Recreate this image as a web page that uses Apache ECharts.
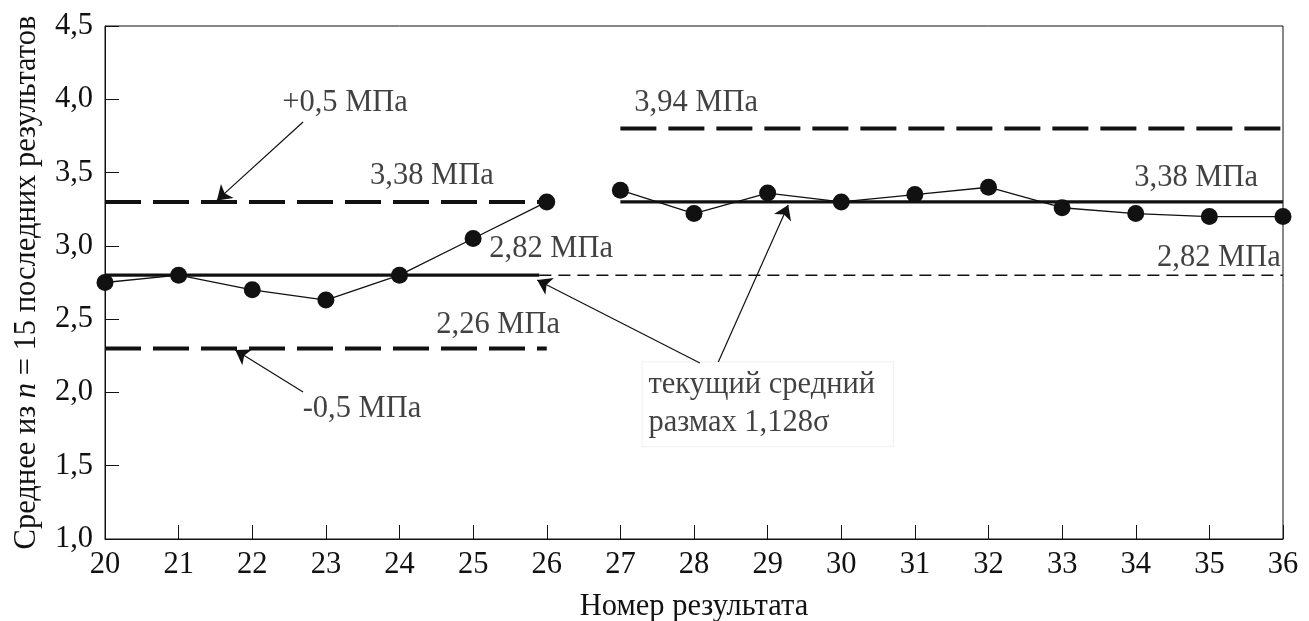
<!DOCTYPE html>
<html><head><meta charset="utf-8">
<script src="https://cdn.jsdelivr.net/npm/echarts@6/dist/echarts.min.js"></script>
<style>html,body{margin:0;padding:0;background:#fff}#c{width:1309px;height:621px}</style>
</head><body><div id="c"></div>
<script>
// ---- data ----
const xA = [20, 21, 22, 23, 24, 25, 26];
const yA = [2.75, 2.80, 2.70, 2.63, 2.80, 3.05, 3.30];
const xB = [27, 28, 29, 30, 31, 32, 33, 34, 35, 36];
const yB = [3.38, 3.22, 3.36, 3.30, 3.35, 3.40, 3.26, 3.22, 3.20, 3.20];
const yTickLabels = ['1,0', '1,5', '2,0', '2,5', '3,0', '3,5', '4,0', '4,5'];
// reference lines: [xStart, xEnd, y]
const upperLeft = [20, 26, 3.30];
const centerLeft = [20, 25.9, 2.80];
const lowerLeft = [20, 26, 2.30];
const centerRightThin = [25.9, 36, 2.80];
const upperRight = [27, 36, 3.80];
const centerRight = [27, 36, 3.30];
// annotation texts and their anchor (data units)
const labelTexts = ['+0,5 МПа', '3,38 МПа', '2,82 МПа', '2,26 МПа', '-0,5 МПа', '3,94 МПа', '3,38 МПа', '2,82 МПа'];
const labelX = [23.26, 24.44, 26.06, 25.34, 23.49, 28.03, 34.82, 35.13];
const labelY = [3.975, 3.477, 2.979, 2.46, 1.89, 3.975, 3.463, 2.917];
const noteText = 'текущий средний\nразмах 1,128σ';
const noteAt = [27.30, 1.92];
// arrows: from -> to (data units)
const arrowFrom = [[22.69, 3.845], [22.69, 2.003], [28.08, 2.201], [28.33, 2.208]];
const arrowTo = [[21.52, 3.31], [21.77, 2.29], [25.87, 2.767], [29.28, 3.279]];

// ---- chart ----
const INK = '#111111';
const FONT = '"Liberation Serif", "DejaVu Serif", serif';
const FS = 30.5;
const pair = a => [[a[0], a[2]], [a[1], a[2]]];
const refLine = (a, width, type) => ({
  type: 'line', data: pair(a), symbol: 'none', silent: true, z: 2,
  lineStyle: { color: INK, width: width, type: type, cap: 'butt' }
});

const chart = echarts.init(document.getElementById('c'), null, { renderer: 'canvas' });
chart.setOption({
  animation: false,
  backgroundColor: '#fff',
  grid: {
    left: 105, right: 26, top: 26, bottom: 82, outerBoundsMode: 'none', containLabel: false,
    show: true, borderColor: INK, borderWidth: 1, backgroundColor: 'transparent'
  },
  xAxis: {
    type: 'value', min: 20, max: 36, interval: 1,
    name: 'Номер результата', nameLocation: 'middle', nameGap: 52,
    nameTextStyle: { fontFamily: FONT, fontSize: FS, color: INK },
    axisLine: { lineStyle: { color: INK, width: 1 } },
    axisTick: { inside: true, length: 14, lineStyle: { color: INK, width: 1 } },
    axisLabel: { margin: 10, fontFamily: FONT, fontSize: FS, color: INK },
    splitLine: { show: false }
  },
  yAxis: {
    type: 'value', min: 1, max: 4.5, interval: 0.5,
    name: '{a|Среднее из }{i|n}{a| = 15 последних результатов}', nameLocation: 'middle', nameGap: 63,
    nameTextStyle: {
      fontFamily: FONT, fontSize: FS, color: INK,
      rich: {
        a: { fontFamily: FONT, fontSize: FS, color: INK },
        i: { fontFamily: FONT, fontSize: FS, color: INK, fontStyle: 'italic' }
      }
    },
    axisLine: { lineStyle: { color: INK, width: 1 } },
    axisTick: { inside: true, length: 14, lineStyle: { color: INK, width: 1 } },
    axisLabel: {
      margin: 12, fontFamily: FONT, fontSize: FS, color: INK,
      formatter: v => yTickLabels[Math.round((v - 1) / 0.5)]
    },
    splitLine: { show: false }
  },
  series: [
    refLine(upperLeft, 4, [36, 12]),
    refLine(lowerLeft, 4, [36, 12]),
    refLine(centerLeft, 3.4, 'solid'),
    refLine(centerRightThin, 1.5, [12, 7]),
    refLine(upperRight, 4, [36, 12]),
    refLine(centerRight, 3.4, 'solid'),
    {
      type: 'line', data: xA.map((x, i) => [x, yA[i]]), z: 5,
      symbol: 'circle', symbolSize: 17, showSymbol: true,
      lineStyle: { color: INK, width: 1.3 }, itemStyle: { color: '#111' }
    },
    {
      type: 'line', data: xB.map((x, i) => [x, yB[i]]), z: 5,
      symbol: 'circle', symbolSize: 17, showSymbol: true,
      lineStyle: { color: INK, width: 1.3 }, itemStyle: { color: '#111' }
    },
    {
      type: 'line', data: [], z: 6, silent: true,
      itemStyle: { color: INK }, lineStyle: { color: INK },
      markLine: {
        silent: true, symbol: ['none', 'arrow'], symbolSize: 14,
        label: { show: false },
        itemStyle: { color: INK },
        lineStyle: { color: INK, width: 1.2, type: 'solid' },
        data: arrowFrom.map((f, i) => [{ coord: f }, { coord: arrowTo[i] }])
      }
    },
    {
      type: 'scatter', z: 6, silent: true, symbolSize: 1,
      itemStyle: { color: 'rgba(0,0,0,0)' },
      data: labelTexts.map((t, i) => ({ name: t, value: [labelX[i], labelY[i]] })),
      label: { show: true, position: 'inside', formatter: '{b}', fontFamily: FONT, fontSize: FS, color: INK }
    },
    {
      type: 'scatter', z: 4, silent: true, symbolSize: 1,
      itemStyle: { color: 'rgba(0,0,0,0)' },
      data: [{ name: noteText, value: noteAt }],
      label: {
        show: true, position: 'inside', align: 'left', verticalAlign: 'middle',
        formatter: '{b}', fontFamily: FONT, fontSize: FS, color: INK, lineHeight: 38,
        backgroundColor: '#fff', borderColor: '#eeeeee', borderWidth: 1, padding: [4, 18, 4, 6]
      }
    }
  ]
});
</script></body></html>
